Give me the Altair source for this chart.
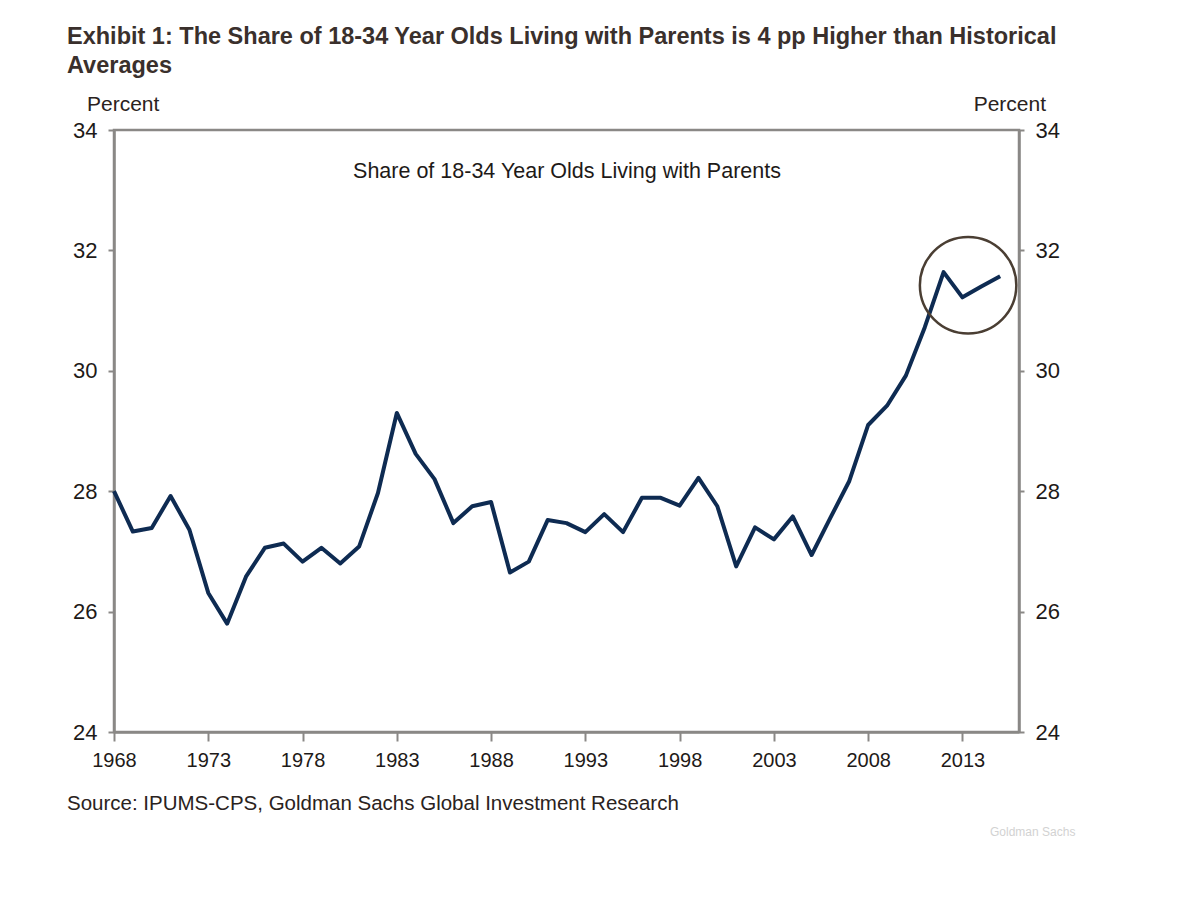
import altair as alt
import pandas as pd

# ---- data ----
years = list(range(1968, 2016))
share = [28.0, 27.33, 27.39, 27.92, 27.36, 26.31, 25.8, 26.58, 27.06, 27.13,
         26.83, 27.06, 26.8, 27.08, 27.97, 29.3, 28.62, 28.2, 27.47, 27.75,
         27.82, 26.65, 26.83, 27.52, 27.47, 27.32, 27.62, 27.32, 27.89, 27.89,
         27.76, 28.22, 27.75, 26.75, 27.4, 27.2, 27.58, 26.94, 27.56, 28.17,
         29.1, 29.42, 29.92, 30.72, 31.64, 31.22, 31.40, 31.57]
x_ticks = [1968, 1973, 1978, 1983, 1988, 1993, 1998, 2003, 2008, 2013]
y_ticks = [24, 26, 28, 30, 32, 34]
circle_year = [2013.3]
circle_value = [31.42]

title_lines = ["Exhibit 1: The Share of 18-34 Year Olds Living with Parents is 4 pp Higher than Historical",
               "Averages"]
inner_title = "Share of 18-34 Year Olds Living with Parents"
source_text = "Source: IPUMS-CPS, Goldman Sachs Global Investment Research"
unit_label = "Percent"
brand = "Goldman Sachs"

FONT = "Liberation Sans, Arial, Helvetica, sans-serif"
AXIS_GRAY = "#8a8886"
TEXT = "#1e1a18"

df = pd.DataFrame({"year": years, "share": share})
circ = pd.DataFrame({"year": circle_year, "share": circle_value})

W, H = 905, 602

xscale = alt.Scale(domain=[1968, 2016], nice=False, zero=False)
yscale = alt.Scale(domain=[24, 34], nice=False, zero=False)

line = alt.Chart(df).mark_line(color="#0e2b52", strokeWidth=4, strokeJoin="round").encode(
    x=alt.X("year:Q", scale=xscale,
            axis=alt.Axis(values=x_ticks, format="d", title=None, orient="bottom",
                          tickSize=9, labelPadding=9, labelFontSize=20,
                          labelFlush=False, grid=False)),
    y=alt.Y("share:Q", scale=yscale,
            axis=alt.Axis(values=y_ticks, title=None, orient="left",
                          tickSize=6, labelPadding=11, labelFontSize=22,
                          grid=False)),
)

ring = alt.Chart(circ).mark_point(shape="circle", filled=False, size=9300,
                                  stroke="#4a3e33", strokeWidth=2.5, opacity=1).encode(
    x=alt.X("year:Q", scale=xscale),
    y=alt.Y("share:Q", scale=yscale,
            axis=alt.Axis(values=y_ticks, title=None, orient="right",
                          tickSize=5, labelPadding=11, labelFontSize=22,
                          grid=False)),
)

def txt(s, x, y, size, align="left", weight="normal", color=TEXT):
    return alt.Chart(pd.DataFrame({"t": [s]})).mark_text(
        align=align, baseline="alphabetic", font=FONT, fontSize=size,
        fontWeight=weight, color=color).encode(
        x=alt.value(x), y=alt.value(y), text="t:N")

texts = [
    txt(title_lines[0], -47, -86, 23.5, weight="bold", color="#3a302c"),
    txt(title_lines[1], -47, -57, 23.5, weight="bold", color="#3a302c"),
    txt(unit_label, -27, -19, 21, color="#2a2220"),
    txt(unit_label, 932, -19, 21, align="right", color="#2a2220"),
    txt(inner_title, 453, 48, 21.5, align="center"),
    txt(source_text, -47, 680, 20.5, color="#2a2220"),
    txt(brand, 876, 706, 12, color="#d2d2d2"),
]

chart = alt.layer(line, ring, *texts).resolve_scale(y="independent").properties(
    width=W, height=H,
    autosize=alt.AutoSizeParams(type="none"),
    padding={"left": 106, "top": 122, "right": 80, "bottom": 130},
).configure_view(
    stroke=AXIS_GRAY, strokeWidth=2.5
).configure_axis(
    domainColor=AXIS_GRAY, domainWidth=2.5, tickColor=AXIS_GRAY, tickWidth=2,
    labelFont=FONT, labelColor=TEXT,
)

chart.save("out.html", embed_options={"renderer": "svg", "actions": False})
